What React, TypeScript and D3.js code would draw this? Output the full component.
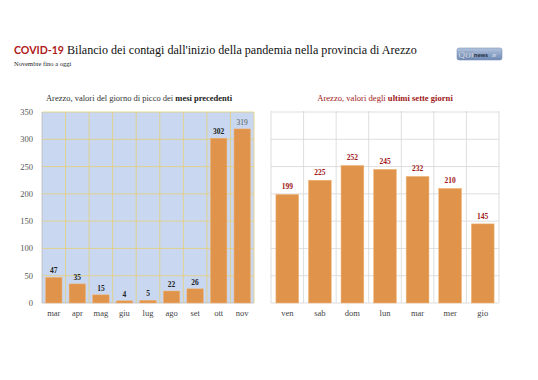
import React from "react";
import * as d3 from "d3";

const monthCats = ["mar", "apr", "mag", "giu", "lug", "ago", "set", "ott", "nov"];
const monthVals = [47, 35, 15, 4, 5, 22, 26, 302, 319];
const dayCats = ["ven", "sab", "dom", "lun", "mar", "mer", "gio"];
const dayVals = [199, 225, 252, 245, 232, 210, 145];
const yTicks = [0, 50, 100, 150, 200, 250, 300, 350];

const W = 538;
const H = 380;
const TOP = 112;
const BOTTOM = 303;
const SERIF = "'Liberation Serif', 'DejaVu Serif', serif";
const SANS = "Lato, 'Open Sans', 'Liberation Sans', sans-serif";
const BAR = "#e0944b";

export default function App() {
  const y = d3.scaleLinear().domain([0, 350]).range([BOTTOM, TOP]);
  const xL = d3.scaleBand<string>().domain(monthCats).range([42, 254]).paddingInner(0.3).paddingOuter(0.15);
  const xR = d3.scaleBand<string>().domain(dayCats).range([271, 499]).paddingInner(0.3).paddingOuter(0.15);
  const boundsL = d3.range(monthCats.length + 1).map((i) => 42 + i * (212 / monthCats.length));
  const boundsR = d3.range(dayCats.length + 1).map((i) => 271 + i * (228 / dayCats.length));

  return (
    <svg width={W} height={H} style={{ display: "block", position: "absolute", left: 0, top: 0, background: "#fff" }}>
      <rect x={0} y={0} width={W} height={H} fill="#fff" />
      {/* Title */}
      <text x={14} y={54} fontSize={12.1} fontFamily={SERIF} fill="#111">
        <tspan fontFamily={SANS} fontWeight="bold" fontSize={10.6} fill="#b01818">COVID-19</tspan>
        <tspan> Bilancio dei contagi dall'inizio della pandemia nella provincia di Arezzo</tspan>
      </text>
      <text x={14} y={66} fontSize={6.5} fontFamily={SERIF} fill="#222">Novembre fino a oggi</text>
      {/* Logo */}
      <defs>
        <linearGradient id="lg" x1="0" y1="0" x2="0" y2="1">
          <stop offset="0" stopColor="#b3c4dd" />
          <stop offset="1" stopColor="#6d88b3" />
        </linearGradient>
      </defs>
      <rect x={457} y={48} width={45} height={12} rx={2} fill="url(#lg)" stroke="#7d93b8" strokeWidth={0.6} />
      <text x={458.5} y={57.5} fontSize={8} fontFamily={SANS} fontWeight="bold" fill="#fff" stroke="#3c5a88" strokeWidth={0.3}>QUI</text>
      <text x={474} y={57} fontSize={6} fontFamily={SANS} fontWeight="bold" fill="#1d2a3a">news</text>
      <text x={492} y={57} fontSize={5} fontFamily={SANS} fill="#e4e8f0">ar</text>

      {/* Left chart */}
      <text x={139} y={101} fontSize={8.5} fontFamily={SERIF} fill="#333" textAnchor="middle">
        Arezzo, valori del giorno di picco dei <tspan fontWeight="bold" fill="#222">mesi precedenti</tspan>
      </text>
      <rect x={42} y={TOP} width={212} height={BOTTOM - TOP} fill="#c9d8f0" />
      {yTicks.slice(1).map((t) => (
        <line key={"gl" + t} x1={42} x2={254} y1={y(t)} y2={y(t)} stroke="#e5cf78" strokeWidth={0.8} />
      ))}
      {boundsL.slice(1).map((b, i) => (
        <line key={"vl" + i} x1={b} x2={b} y1={TOP} y2={BOTTOM} stroke="#e5cf78" strokeWidth={0.8} />
      ))}
      <line x1={42} x2={42} y1={TOP} y2={BOTTOM} stroke="#bbb" strokeWidth={0.8} />
      <line x1={42} x2={254} y1={BOTTOM} y2={BOTTOM} stroke="#bbb" strokeWidth={0.8} />
      {monthCats.map((c, i) => (
        <g key={"bl" + c}>
          <rect x={xL(c)!} y={y(monthVals[i])} width={xL.bandwidth()} height={BOTTOM - y(monthVals[i])} fill={BAR} stroke="#f1b77a" strokeWidth={0.5} />
          <text x={xL(c)! + xL.bandwidth() / 2} y={y(monthVals[i]) - 4} fontSize={7.5} fontFamily={SERIF}
            fontWeight={i === monthCats.length - 1 ? "normal" : "bold"} fill={i === monthCats.length - 1 ? "#555" : "#222"} textAnchor="middle">
            {monthVals[i]}
          </text>
          <text x={xL(c)! + xL.bandwidth() / 2} y={316} fontSize={8.5} fontFamily={SERIF} fill="#444" textAnchor="middle">{c}</text>
        </g>
      ))}
      {yTicks.map((t) => (
        <text key={"yt" + t} x={33} y={y(t) + 3} fontSize={8.5} fontFamily={SERIF} fill="#555" textAnchor="end">{t}</text>
      ))}

      {/* Right chart */}
      <text x={385} y={101} fontSize={8.6} fontFamily={SERIF} fill="#a01818" textAnchor="middle">
        Arezzo, valori degli <tspan fontWeight="bold">ultimi sette giorni</tspan>
      </text>
      {yTicks.map((t) => (
        <line key={"gr" + t} x1={271} x2={499} y1={y(t)} y2={y(t)} stroke="#d6d6d6" strokeWidth={0.8} />
      ))}
      {boundsR.map((b, i) => (
        <line key={"vr" + i} x1={b} x2={b} y1={TOP - 1} y2={BOTTOM} stroke="#d6d6d6" strokeWidth={0.8} />
      ))}
      {dayCats.map((c, i) => (
        <g key={"br" + c}>
          <rect x={xR(c)!} y={y(dayVals[i])} width={xR.bandwidth()} height={BOTTOM - y(dayVals[i])} fill={BAR} stroke="#f1b77a" strokeWidth={0.5} />
          <text x={xR(c)! + xR.bandwidth() / 2} y={y(dayVals[i]) - 5} fontSize={7.5} fontFamily={SERIF} fontWeight="bold" fill="#a01818" textAnchor="middle">
            {dayVals[i]}
          </text>
          <text x={xR(c)! + xR.bandwidth() / 2} y={316} fontSize={8.5} fontFamily={SERIF} fill="#444" textAnchor="middle">{c}</text>
        </g>
      ))}
    </svg>
  );
}
